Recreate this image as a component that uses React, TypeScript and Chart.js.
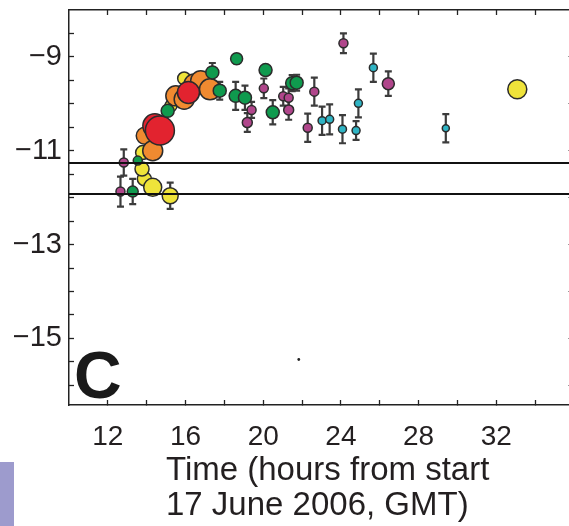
import React, { useEffect, useRef } from "react";
import { Chart, registerables } from "chart.js";

Chart.register(...registerables);

// ---- axis ticks / labels ----
const xTickValues = [12, 14, 16, 18, 20, 22, 24, 26, 28, 30, 32, 34];
const xTickLabels = [12, 16, 20, 24, 28, 32];
const yTickValues = [-16, -15.5, -15, -14.5, -14, -13.5, -13, -12.5, -12, -11.5, -11, -10.5, -10, -9.5, -9, -8.5];
const yTickLabels = [-9, -11, -13, -15];
const yRightTicks = [-16, -15, -14, -13, -12, -11, -10, -9];
const xTitleLines = ["Time (hours from start", "17 June 2006, GMT)"];
const panelLabel = "C";

// ---- threshold levels ----
const levelUpper = -11.26;
const levelLower = -11.92;
const levelSpan = [10, 36];

// ---- series (x = hours, y = value, err = half error bar) ----
const redX = [14.42, 14.68, 16.15];
const redY = [-10.47, -10.57, -9.76];
const redErr = [0.1, 0.12, 0.1];
const redRadius = [12, 14.5, 11];

const orangeX = [13.9, 14.31, 15.5, 15.93, 16.44, 16.78, 17.26];
const orangeY = [-10.68, -11.0, -9.83, -9.9, -9.58, -9.51, -9.69];
const orangeErr = [0, 0, 0, 0, 0, 0, 0.15];
const orangeRadius = [8.5, 10, 10, 10, 10, 10, 10.5];

const yellowX = [13.88, 13.76, 13.79, 14.31, 15.21, 15.25, 15.93, 16.27, 33.08];
const yellowY = [-11.6, -11.39, -11.04, -11.78, -11.96, -10.04, -9.46, -9.69, -9.69];
const yellowErr = [0, 0, 0, 0.12, 0.28, 0, 0, 0, 0];
const yellowRadius = [7, 7, 7, 9, 8, 6, 6.5, 6.5, 9.5];

const greenX = [13.28, 13.54, 15.08, 17.38, 17.76, 18.63, 18.58, 19.06, 20.12, 20.49, 21.49, 21.72];
const greenY = [-11.87, -11.21, -10.15, -9.33, -9.72, -9.04, -9.83, -9.87, -9.28, -10.18, -9.56, -9.55];
const greenErr = [0.27, 0, 0, 0.2, 0.19, 0.1, 0.3, 0.26, 0.1, 0.26, 0.17, 0.17];
const greenRadius = [5.5, 4.5, 6.5, 6.5, 6.5, 6, 6.5, 6.5, 6.5, 6.5, 6.5, 6.5];

const purpleX = [12.82, 12.65, 20.03, 19.4, 19.18, 21.03, 21.31, 21.31, 22.29, 22.63, 24.13, 26.44];
const purpleY = [-11.25, -11.87, -9.67, -10.13, -10.4, -9.84, -9.87, -10.13, -10.51, -9.74, -8.71, -9.57];
const purpleErr = [0.28, 0.32, 0.21, 0.17, 0.2, 0.2, 0.2, 0.21, 0.3, 0.3, 0.21, 0.26];
const purpleRadius = [4.5, 4.5, 4.5, 4.5, 5, 4.5, 4.5, 5, 4.5, 4.5, 4.5, 6];

const cyanX = [23.03, 23.42, 24.08, 24.78, 24.9, 25.67, 29.4];
const cyanY = [-10.36, -10.33, -10.54, -10.57, -9.99, -9.23, -10.52];
const cyanErr = [0.3, 0.32, 0.3, 0.2, 0.3, 0.3, 0.3];
const cyanRadius = [4, 4, 4, 4, 4, 4, 3.5];

const dotX = [21.83];
const dotY = [-15.45];

const FONT = "'Liberation Sans', Arial, Helvetica, sans-serif";
const TEXT = "#231f20";
const EDGE = "#2b2b2b";

function pts(xs: number[], ys: number[]) {
  return xs.map((x, i) => ({ x, y: ys[i] }));
}

function scatter(label: string, xs: number[], ys: number[], errs: number[], radius: number[], color: string) {
  return {
    type: "scatter" as const,
    label,
    data: pts(xs, ys),
    errs,
    pointRadius: radius,
    pointBackgroundColor: color,
    pointBorderColor: EDGE,
    pointBorderWidth: 1.5,
    showLine: false,
  };
}

function level(label: string, v: number) {
  return {
    type: "line" as const,
    label,
    data: levelSpan.map((x) => ({ x, y: v })),
    borderColor: "#111",
    borderWidth: 2,
    pointRadius: 0,
    showLine: true,
    fill: false,
  };
}

function fixSize(prop: "width" | "height", size: number) {
  return (s: any) => {
    s[prop] = size;
    s.paddingTop = 0;
    s.paddingBottom = 0;
    s.paddingLeft = 0;
    s.paddingRight = 0;
  };
}

const errorBarPlugin = {
  id: "errorBars",
  beforeDatasetsDraw(chart: any) {
    const ctx = chart.ctx;
    const ys = chart.scales.y;
    ctx.save();
    ctx.beginPath();
    ctx.rect(chart.chartArea.left, chart.chartArea.top, chart.chartArea.right - chart.chartArea.left, chart.chartArea.bottom - chart.chartArea.top);
    ctx.clip();
    chart.data.datasets.forEach((ds: any, i: number) => {
      if (!ds.errs) return;
      const meta = chart.getDatasetMeta(i);
      meta.data.forEach((el: any, j: number) => {
        const e = ds.errs[j];
        if (!e) return;
        const v = ds.data[j].y;
        const x = el.x;
        const y1 = ys.getPixelForValue(v - e);
        const y2 = ys.getPixelForValue(v + e);
        ctx.strokeStyle = "#3c3c3c";
        ctx.lineWidth = 2.2;
        ctx.beginPath();
        ctx.moveTo(x, y1);
        ctx.lineTo(x, y2);
        ctx.moveTo(x - 3.5, y1);
        ctx.lineTo(x + 3.5, y1);
        ctx.moveTo(x - 3.5, y2);
        ctx.lineTo(x + 3.5, y2);
        ctx.stroke();
      });
    });
    ctx.restore();
  },
};

const decorPlugin = {
  id: "decor",
  afterDraw(chart: any) {
    const ctx = chart.ctx;
    const area = chart.chartArea;
    ctx.save();
    // panel letter
    ctx.fillStyle = "#1a1a1a";
    ctx.font = `bold 66px ${FONT}`;
    ctx.textAlign = "left";
    ctx.textBaseline = "alphabetic";
    ctx.fillText(panelLabel, area.left + 5, area.bottom - 7);
    // x-axis title (left aligned, two lines)
    ctx.fillStyle = TEXT;
    ctx.font = `33px ${FONT}`;
    xTitleLines.forEach((line, i) => {
      ctx.fillText(line, area.left + 97, area.bottom + 75 + i * 35);
    });
    // stray swatch at the lower-left corner
    ctx.fillStyle = "#9d9bcd";
    ctx.fillRect(0, 462, 14, 64);
    ctx.restore();
  },
};

export default function App() {
  const ref = useRef<HTMLCanvasElement | null>(null);

  useEffect(() => {
    if (!ref.current) return;
    const chart = new Chart(ref.current, {
      type: "scatter",
      data: {
        datasets: [
          level("upper", levelUpper),
          level("lower", levelLower),
          { type: "scatter", label: "dot", data: pts(dotX, dotY), pointRadius: 1.4, pointBackgroundColor: "#222", pointBorderWidth: 0 } as any,
          scatter("green", greenX, greenY, greenErr, greenRadius, "#0f9a4e"),
          scatter("red", redX, redY, redErr, redRadius, "#e2232f"),
          scatter("orange", orangeX, orangeY, orangeErr, orangeRadius, "#f08a30"),
          scatter("yellow", yellowX, yellowY, yellowErr, yellowRadius, "#efe33a"),
          scatter("purple", purpleX, purpleY, purpleErr, purpleRadius, "#b0468b"),
          scatter("cyan", cyanX, cyanY, cyanErr, cyanRadius, "#2fb4c4"),
        ] as any,
      },
      options: {
        responsive: false,
        animation: false,
        layout: { padding: 0, autoPadding: false },
        plugins: { legend: { display: false }, tooltip: { enabled: false } },
        scales: {
          x: {
            type: "linear",
            position: "bottom",
            min: 10,
            max: 36,
            afterFit: fixSize("height", 121),
            afterBuildTicks: (s: any) => { s.ticks = xTickValues.map((v) => ({ value: v })); },
            ticks: {
              autoSkip: false,
              maxRotation: 0,
              padding: 20,
              color: TEXT,
              font: { family: FONT, size: 28 },
              callback: (v: any) => (xTickLabels.includes(Number(v)) ? String(v) : ""),
            },
            grid: { drawOnChartArea: false, tickLength: -5, tickColor: "#222", tickWidth: 1.3 },
            border: { color: "#222", width: 1.5 },
          },
          x2: {
            type: "linear",
            position: "top",
            min: 10,
            max: 36,
            afterFit: fixSize("height", 10),
            afterBuildTicks: (s: any) => { s.ticks = xTickValues.map((v) => ({ value: v })); },
            ticks: { callback: () => "", font: { size: 1 }, padding: 0 },
            grid: { drawOnChartArea: false, tickLength: -5, tickColor: "#222", tickWidth: 1.3 },
            border: { color: "#222", width: 1.5 },
          },
          y: {
            type: "linear",
            position: "left",
            min: -16.42,
            max: -8.0,
            afterFit: fixSize("width", 69),
            afterBuildTicks: (s: any) => { s.ticks = yTickValues.map((v) => ({ value: v })); },
            ticks: {
              autoSkip: false,
              padding: 12,
              color: TEXT,
              font: { family: FONT, size: 29 },
              callback: (v: any) => (yTickLabels.includes(Number(v)) ? "\u2212" + Math.abs(Number(v)) : ""),
            },
            grid: { drawOnChartArea: false, tickLength: -5, tickColor: "#222", tickWidth: 1.3 },
            border: { color: "#222", width: 1.5 },
          },
          y2: {
            type: "linear",
            position: "right",
            min: -16.42,
            max: -8.0,
            afterFit: fixSize("width", 2),
            afterBuildTicks: (s: any) => { s.ticks = yRightTicks.map((v) => ({ value: v })); },
            ticks: { callback: () => "", font: { size: 1 }, padding: 0 },
            grid: { drawOnChartArea: false, tickLength: -6, tickColor: "#999", tickWidth: 1 },
            border: { color: "#222", width: 1.5 },
          },
        },
      } as any,
      plugins: [errorBarPlugin, decorPlugin],
    });
    return () => chart.destroy();
  }, []);

  return (
    <div style={{ position: "fixed", left: 0, top: 0, width: 569, height: 526, overflow: "hidden", background: "#fff" }}>
      <canvas ref={ref} width={576} height={526} style={{ width: 576, height: 526, display: "block" }} />
    </div>
  );
}
